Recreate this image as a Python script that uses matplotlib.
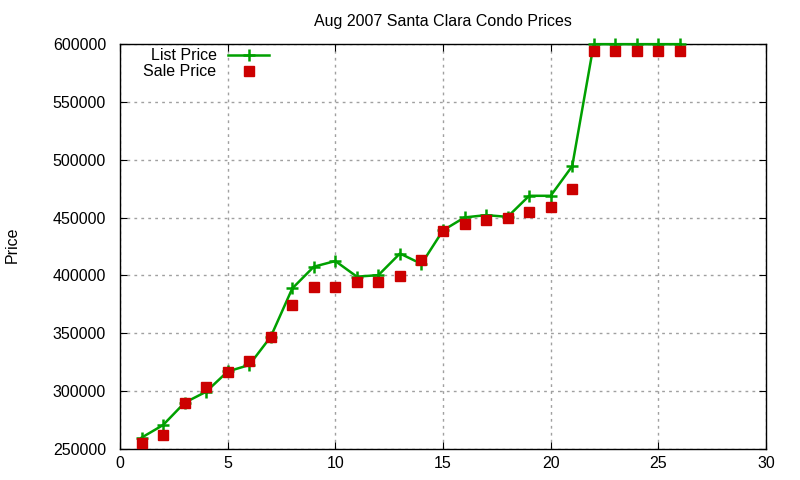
import matplotlib
matplotlib.use("Agg")
import matplotlib.pyplot as plt

x = list(range(1, 27))
list_price = [259800, 270700, 290000, 299500, 317000, 322600, 347000, 388800, 407600, 412500,
              399000, 400300, 419000, 410000, 439000, 450200, 452200, 450700, 468900, 468900,
              494500, 600000, 600000, 600000, 600000, 600000]
sale_price = [255400, 262100, 290000, 303600, 316800, 326000, 347000, 374400, 390000, 390000,
              394600, 394600, 399500, 413300, 438600, 444700, 447900, 449900, 455100, 459400,
              475000, 593700, 593700, 593700, 593700, 593700]

plt.rcParams['font.family'] = ['Liberation Sans', 'DejaVu Sans']

fig = plt.figure(figsize=(8, 4.8), dpi=100)
ax = fig.add_axes([0.15, 0.0646, 0.8075, 0.8434])

ax.plot(x, list_price, color='#00a000', linewidth=1.8, marker='+', markersize=9,
        markeredgewidth=1.8, label='List Price', clip_on=False, zorder=3)
ax.plot(x, sale_price, linestyle='none', marker='s', markersize=6.5, color='#cc0000',
        label='Sale Price', zorder=4)

ax.set_xlim(0, 30)
ax.set_ylim(250000, 600000)
ax.set_xticks(range(0, 31, 5))
ax.set_yticks(range(250000, 600001, 50000))
ax.set_yticklabels([str(v) for v in range(250000, 600001, 50000)])
ax.tick_params(direction='in', top=True, right=True, labelsize=11.5, length=5)
ax.tick_params(axis='y', pad=10)
ax.tick_params(axis='x', pad=5)
ax.grid(True, linestyle=(0, (2, 3)), color='#a0a0a0', linewidth=1)
for s in ax.spines.values():
    s.set_linewidth(1)

ax.set_title('Aug 2007 Santa Clara Condo Prices', fontsize=11.5, pad=13)
fig.text(0.015, 0.49, 'Price', rotation=90, fontsize=11.5, va='center', ha='center')

leg = ax.legend(loc='upper left', bbox_to_anchor=(0.019, 1.017), frameon=False, fontsize=11.5,
                markerfirst=False, handlelength=2.6, borderaxespad=0.3, labelspacing=0.05,
                handletextpad=0.7)
for t in leg.get_texts():
    t.set_ha('right')

fig.savefig('out.png', dpi=100)
